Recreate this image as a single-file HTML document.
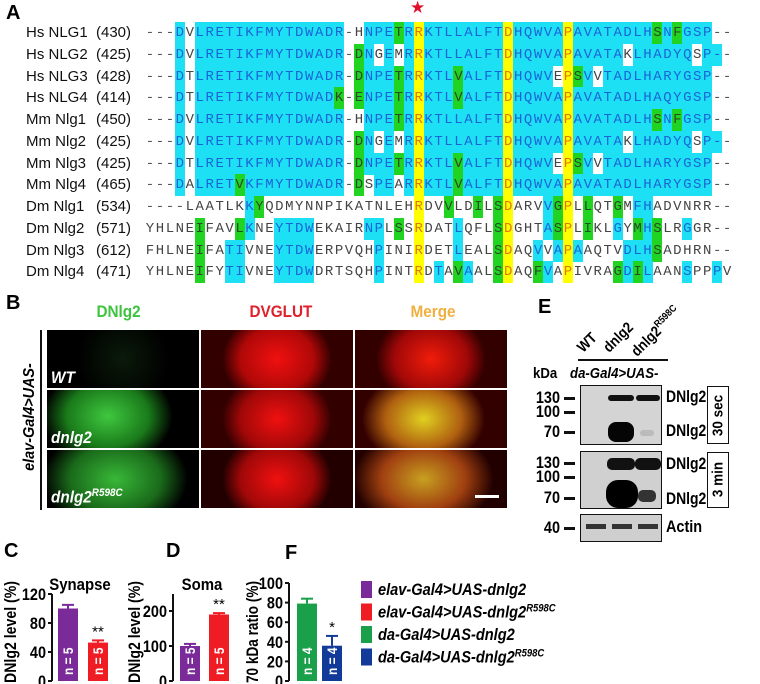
<!DOCTYPE html>
<html><head><meta charset="utf-8"><style>
body{margin:0;background:#fff;font-family:"Liberation Sans",sans-serif;}
#root{position:relative;width:760px;height:684px;overflow:hidden;}
.abs{position:absolute;}
.pl{font-weight:bold;font-size:20px;}
.lab{font-size:15px;color:#111;white-space:pre;}
.seq{font-family:"Liberation Mono",monospace;font-size:14px;}
.cell{position:absolute;width:10px;height:22px;line-height:22px;text-align:center;}
.img{position:absolute;overflow:hidden;}
.b{font-weight:bold;}
.n{white-space:nowrap;}
</style></head><body><div id="root">
<div class="abs pl" style="left:6px;top:2px">A</div>
<div class="abs" style="left:410px;top:-2px;color:#e0102a;font-size:17px">★</div>
<div id="align" class="abs" style="left:0;top:0"></div>

<div class="abs pl" style="left:6px;top:292px">B</div>
<div class="abs b n" style="left:94px;top:302px;color:#3ec43e;font-size:17px;transform:scaleX(0.9)">DNlg2</div>
<div class="abs b n" style="left:246px;top:302px;color:#e0202a;font-size:17px;transform:scaleX(0.9)">DVGLUT</div>
<div class="abs b n" style="left:408px;top:302px;color:#f0b040;font-size:17px;transform:scaleX(0.9)">Merge</div>
<div class="abs" style="left:40px;top:330px;width:2px;height:180px;background:#111"></div>
<div class="abs b n" style="left:-40px;top:408px;width:140px;text-align:center;font-style:italic;font-size:16px;transform:rotate(-90deg) scaleX(0.9)">elav-Gal4&gt;UAS-</div>
<div id="micro" class="abs" style="left:0;top:0"></div>

<div class="abs pl" style="left:538px;top:296px">E</div>
<div class="abs b n" style="left:586px;top:340px;transform-origin:0 100%;transform:rotate(-45deg) scaleX(0.88);font-size:15px;line-height:16px">WT</div>
<div class="abs b n" style="left:612px;top:340px;transform-origin:0 100%;transform:rotate(-45deg) scaleX(0.88);font-size:15px;line-height:16px">dnlg2</div>
<div class="abs b n" style="left:640px;top:340px;transform-origin:0 100%;transform:rotate(-45deg) scaleX(0.88);font-size:15px;line-height:16px">dnlg2<sup style="font-size:10px">R598C</sup></div>
<div class="abs" style="left:578px;top:359px;width:90px;height:1.5px;background:#111"></div>
<div class="abs b n" style="left:533px;top:365px;font-size:15px;transform-origin:0 0;transform:scaleX(0.88)">kDa</div>
<div class="abs b n" style="left:570px;top:365px;font-size:15px;font-style:italic;transform-origin:0 0;transform:scaleX(0.88)">da-Gal4&gt;UAS-</div>
<div id="blot" class="abs" style="left:0;top:0"></div>

<div class="abs pl" style="left:4px;top:540px">C</div>
<div class="abs pl" style="left:166px;top:540px">D</div>
<div class="abs pl" style="left:285px;top:542px">F</div>
<svg id="charts" class="abs" style="left:0;top:0" width="760" height="684"></svg>
</div>
<script>
const seqNames=["Hs NLG1","Hs NLG2","Hs NLG3","Hs NLG4","Mm Nlg1","Mm Nlg2","Mm Nlg3","Mm Nlg4","Dm Nlg1","Dm Nlg2","Dm Nlg3","Dm Nlg4"];
const seqStarts=["(430)","(425)","(428)","(414)","(450)","(425)","(425)","(465)","(534)","(571)","(612)","(471)"];
const seqs=[
"---DVLRETIKFMYTDWADR-HNPETRRKTLLALFTDHQWVAPAVATADLHSNFGSP--",
"---DVLRETIKFMYTDWADR-DNGEMRRKTLLALFTDHQWVAPAVATAKLHADYQSP--",
"---DTLRETIKFMYTDWADR-DNPETRRKTLVALFTDHQWVEPSVVTADLHARYGSP--",
"---DTLRETIKFMYTDWADK-ENPETRRKTLVALFTDHQWVAPAVATADLHAQYGSP--",
"---DVLRETIKFMYTDWADR-HNPETRRKTLLALFTDHQWVAPAVATADLHSNFGSP--",
"---DVLRETIKFMYTDWADR-DNGEMRRKTLLALFTDHQWVAPAVATAKLHADYQSP--",
"---DTLRETIKFMYTDWADR-DNPETRRKTLVALFTDHQWVEPSVVTADLHARYGSP--",
"---DALRETVKFMYTDWADR-DSPEARRKTLVALFTDHQWVAPAVATADLHARYGSP--",
"----LAATLKKYQDMYNNPIKATNLEHRDVVLDILSDARVVGPLLQTGMFHADVNRR--",
"YHLNEIFAVLKNEYTDWEKAIRNPLSSRDATLQFLSDGHTASPLIKLGYMHSLRGGR--",
"FHLNEIFATIVNEYTDWERPVQHPINIRDETLEALSDAQVVAPAAQTVDLHSADHRN--",
"YHLNEIFYTIVNEYTDWDRTSQHPINTRDTAVAALSDAQFVAPIVRAGDILAANSPPPV"];
const seqColors=[
"wwwcwcccccccccccccccwwcccgcyccccccccycccccyccccccccgcgcccww",
"wwwcwcccccccccccccccwgcwcwcyccccccccycccccycccccwccccccwccww",
"wwwcwcccccccccccccccwgcccgcycccgccccyccccwygcwcccccccccccww",
"wwwcwccccccccccccccgwgcccgcycccgccccycccccyccccccccccccccww",
"wwwcwcccccccccccccccwwcccgcyccccccccycccccyccccccccgcgcccww",
"wwwcwcccccccccccccccwgcwcwcyccccccccycccccycccccwccccccwccww",
"wwwcwcccccccccccccccwgcccgcycccgccccyccccwygcwcccccccccccww",
"wwwcwccccgccccccccccwgwccwcycccgccccycccccyccccccccccccccww",
"wwwwwwwwwwcgwwwwwwwwwwwwwwwywwgwwgwgywwwcgywgwwgwccwwwwwwww",
"wwwwwgwwwgcwwccccwwwwwccwgwywwwcwwwgywwwcgywgwwcwgcgwwcwwww",
"wwwwwgwwccwwwccccwwwwwwcwwwywwwcwwwgywwcwcycwwwwcccgwwwwwww",
"wwwwwgwwccwwwccccwwwwwwcwwwywcwgcwwgywwgcwywwwwgcgcwwwcwwcw"];
const align=document.getElementById('align');
const bgMap={c:'#1ee0f5',g:'#22d422',y:'#ffff00',w:'transparent'};
for(let r=0;r<seqs.length;r++){
  const top=22+r*21.75;
  const nm=document.createElement('div');nm.className='abs lab';nm.style.left='26px';nm.style.top=(top+2)+'px';nm.textContent=seqNames[r];
  
  
  align.appendChild(nm);
  const st=document.createElement('div');st.className='abs lab';st.style.left='96px';st.style.top=(top+2)+'px';st.textContent=seqStarts[r];
  
  
  align.appendChild(st);
  for(let i=0;i<seqs[r].length;i++){
    const ch=seqs[r][i],col=seqColors[r][i]||'w';
    const d=document.createElement('div');d.className='cell seq';
    d.style.left=(145+i*9.95)+'px';d.style.top=top+'px';d.style.background=bgMap[col];
    d.style.color=col==='c'?'#1a64d8':col==='y'?'#e07800':(col==='g'?'#2a4a2a':(ch==='-'?'#555':'#444'));
    d.textContent=ch;
    
    
    align.appendChild(d);
  }
}
// microscopy
const micro=document.getElementById('micro');
const colsX=[47,201,355],rowsY=[330,390,450];
const fills=[
["radial-gradient(ellipse 30% 80% at 50% 50%,#0a1a0a,#000)","radial-gradient(ellipse 40% 90% at 50% 50%,#f01010,#b00808 60%,#300 90%)","radial-gradient(ellipse 40% 90% at 50% 50%,#f01c0a,#a00808 60%,#300 90%)"],
["radial-gradient(ellipse 45% 90% at 40% 45%,#3fc83f,#1a7a1a 60%,#000 95%)","radial-gradient(ellipse 40% 90% at 50% 50%,#f01010,#a00808 60%,#300 90%)","radial-gradient(ellipse 45% 90% at 45% 50%,#e0d020,#b06010 55%,#300 90%)"],
["radial-gradient(ellipse 50% 95% at 45% 50%,#38b838,#1a6a1a 60%,#000 95%)","radial-gradient(ellipse 40% 90% at 50% 50%,#f01010,#a00808 60%,#200 90%)","radial-gradient(ellipse 50% 95% at 45% 50%,#c8a020,#a04010 55%,#200 92%)"]];
const rowLbl=["WT","dnlg2","dnlg2<sup style='font-size:11px'>R598C</sup>"];
for(let r=0;r<3;r++)for(let c=0;c<3;c++){
  const d=document.createElement('div');d.className='img';
  d.style.left=colsX[c]+'px';d.style.top=rowsY[r]+'px';d.style.width='152px';d.style.height='58px';d.style.background=fills[r][c];
  
  
  if(c===0){const t=document.createElement('div');t.className='abs b n';t.style.cssText='left:4px;bottom:0;color:#fff;font-style:italic;font-size:17px;transform-origin:0 100%;transform:scaleX(0.9)';t.innerHTML=rowLbl[r];d.appendChild(t);}
  if(r===2&&c===2){const s=document.createElement('div');s.className='abs';s.style.cssText='right:8px;bottom:10px;width:24px;height:3px;background:#fff';d.appendChild(s);}
  micro.appendChild(d);
}
// blot
const blot=document.getElementById('blot');
function el(html,css,name){const d=document.createElement('div');d.className='abs n';d.style.cssText=css;d.innerHTML=html;
  
  
  blot.appendChild(d);return d;}
el('','left:580px;top:385px;width:80px;height:58px;border:1.5px solid #111;background:#d4d4d4','blot-30sec');
el('','left:580px;top:451px;width:80px;height:56px;border:1.5px solid #111;background:#d0d0d0','blot-3min');
el('','left:580px;top:514px;width:80px;height:26px;border:1.5px solid #111;background:#cfcfcf','blot-actin');
el('','left:608px;top:395px;width:26px;height:6px;border-radius:3px;background:#111','band');
el('','left:636px;top:395px;width:24px;height:6px;border-radius:3px;background:#111','band');
el('','left:608px;top:422px;width:26px;height:20px;border-radius:8px;background:#050505','band');
el('','left:640px;top:430px;width:14px;height:6px;border-radius:3px;background:#bbb','band');
el('','left:607px;top:458px;width:28px;height:12px;border-radius:5px;background:#111','band');
el('','left:635px;top:458px;width:26px;height:12px;border-radius:5px;background:#111','band');
el('','left:606px;top:480px;width:32px;height:28px;border-radius:12px;background:#000','band');
el('','left:638px;top:490px;width:18px;height:12px;border-radius:5px;background:#333','band');
el('','left:586px;top:524px;width:20px;height:5px;background:#333','band');
el('','left:612px;top:524px;width:20px;height:5px;background:#333','band');
el('','left:638px;top:524px;width:20px;height:5px;background:#333','band');
const mw=[["130",398],["100",412],["70",432],["130",463],["100",477],["70",498],["40",528]];
mw.forEach(m=>{el(m[0],'left:528px;top:'+(m[1]-10)+'px;width:32px;text-align:right;font-weight:bold;font-size:17px;transform-origin:100% 50%;transform:scaleX(0.85)','mw-label');el('','left:564px;top:'+(m[1]-1.5)+'px;width:11px;height:3px;background:#111','mw-tick');});
[398,432,465,500].forEach(y=>el('DNlg2','left:666px;top:'+(y-11)+'px;font-weight:bold;font-size:17px;transform-origin:0 50%;transform:scaleX(0.82)','band-label'));
el('Actin','left:666px;top:517px;font-weight:bold;font-size:17px;transform-origin:0 50%;transform:scaleX(0.85)','actin-label');
el('<div style="position:absolute;left:-15px;top:20px;width:50px;text-align:center;transform:rotate(-90deg) scaleX(0.9);font-weight:bold;font-size:15px">30 sec</div>','left:707px;top:386px;width:20px;height:56px;border:1.5px solid #111','exposure-30sec');
el('<div style="position:absolute;left:-15px;top:18px;width:50px;text-align:center;transform:rotate(-90deg) scaleX(0.9);font-weight:bold;font-size:15px">3 min</div>','left:707px;top:452px;width:20px;height:54px;border:1.5px solid #111','exposure-3min');

// charts
const svg=document.getElementById('charts');const NS='http://www.w3.org/2000/svg';
const FF='"Liberation Sans",sans-serif';
function S(tag,attrs,name,txt){const e=document.createElementNS(NS,tag);for(const k in attrs)e.setAttribute(k,attrs[k]);
  
  
  if(txt!==undefined)e.textContent=txt;svg.appendChild(e);return e;}
const cSyn=[100,53], cSynErr=[5,3], cSynTicks=[0,40,80,120];
const cSoma=[100,190], cSomaErr=[6,4], cSomaTicks=[0,100,200];
const cRatio=[79,36], cRatioErr=[5,10], cRatioTicks=[0,20,40,60,80,100];
const nLabels=[["n = 5","n = 5"],["n = 5","n = 5"],["n = 4","n = 4"]];
const sigLabels=[["","**"],["","**"],["","*"]];
const charts=[
 {vals:cSyn,err:cSynErr,ticks:cSynTicks,max:120,top:594,ax:52,bx:[58,88],cols:['#7b2a9a','#f01c24'],title:'Synapse',tx:80,yl:'DNlg2 level (%)',ylx:16,axTop:594},
 {vals:cSoma,err:cSomaErr,ticks:cSomaTicks,max:200,top:611,ax:173,bx:[180,209],cols:['#7b2a9a','#f01c24'],title:'Soma',tx:202,yl:'DNlg2 level (%)',ylx:140,axTop:594},
 {vals:cRatio,err:cRatioErr,ticks:cRatioTicks,max:100,top:583,ax:289,bx:[297,322],cols:['#1aa04a','#123a98'],title:'',tx:0,yl:'70 kDa ratio (%)',ylx:258,axTop:583}];
const base=681,bw=20;
charts.forEach((c,ci)=>{
  const y=v=>base-(base-c.top)*v/c.max;
  S('line',{x1:c.ax,y1:c.axTop,x2:c.ax,y2:base,stroke:'#111','stroke-width':2},'y-axis');
  c.ticks.forEach(t=>{S('line',{x1:c.ax-4,y1:y(t),x2:c.ax,y2:y(t),stroke:'#111','stroke-width':2},'y-tick');
    S('text',{x:0,y:0,transform:'translate('+(c.ax-6)+','+(y(t)+6)+') scale(0.85,1)','text-anchor':'end','font-size':17,'font-weight':'bold','font-family':FF},'y-tick-label',t);});
  c.vals.forEach((v,i)=>{const x=c.bx[i];
    S('rect',{x:x,y:y(v),width:bw,height:base-y(v),fill:c.cols[i]},'bar');
    const ey=y(v+c.err[i]);
    S('line',{x1:x+bw/2,y1:ey,x2:x+bw/2,y2:y(v),stroke:c.cols[i],'stroke-width':2},'error-bar');
    S('line',{x1:x+4,y1:ey,x2:x+bw-4,y2:ey,stroke:c.cols[i],'stroke-width':2},'error-cap');
    S('text',{x:0,y:0,transform:'translate('+(x+bw/2+5)+','+(base-6)+') rotate(-90) scale(0.85,1)','font-size':14,'font-weight':'bold',fill:'#fff','font-family':FF},'n-label',nLabels[ci][i]);
    if(sigLabels[ci][i])S('text',{x:x+bw/2,y:ey-4,'text-anchor':'middle','font-size':15,'font-family':FF},'significance',sigLabels[ci][i]);
  });
  if(c.title)S('text',{x:0,y:0,transform:'translate('+c.tx+',590) scale(0.88,1)','text-anchor':'middle','font-size':17,'font-weight':'bold','font-family':FF},'chart-title',c.title);
  S('text',{x:0,y:0,transform:'translate('+c.ylx+',632) rotate(-90)','text-anchor':'middle','font-size':17,'font-weight':'bold','font-family':FF,textLength:102,lengthAdjust:'spacingAndGlyphs'},'y-axis-title',c.yl);
});
const legendCols=['#7b2a9a','#f01c24','#1aa04a','#123a98'];
const legendTxt=['elav-Gal4>UAS-dnlg2','elav-Gal4>UAS-dnlg2','da-Gal4>UAS-dnlg2','da-Gal4>UAS-dnlg2'];
const legendSup=['','R598C','','R598C'];
legendCols.forEach((col,i)=>{const yy=581+i*22.5;
  S('rect',{x:361,y:yy,width:11,height:17,fill:col},'legend-swatch');
  const t=S('text',{x:0,y:0,transform:'translate(378,'+(yy+14)+') scale(0.86,1)','font-size':17,'font-weight':'bold','font-style':'italic','font-family':FF},'legend-entry',legendTxt[i]);
  if(legendSup[i]){const ts=document.createElementNS(NS,'tspan');ts.setAttribute('dy','-6');ts.setAttribute('font-size','11');ts.textContent=legendSup[i];t.appendChild(ts);}
});
</script></body></html>
